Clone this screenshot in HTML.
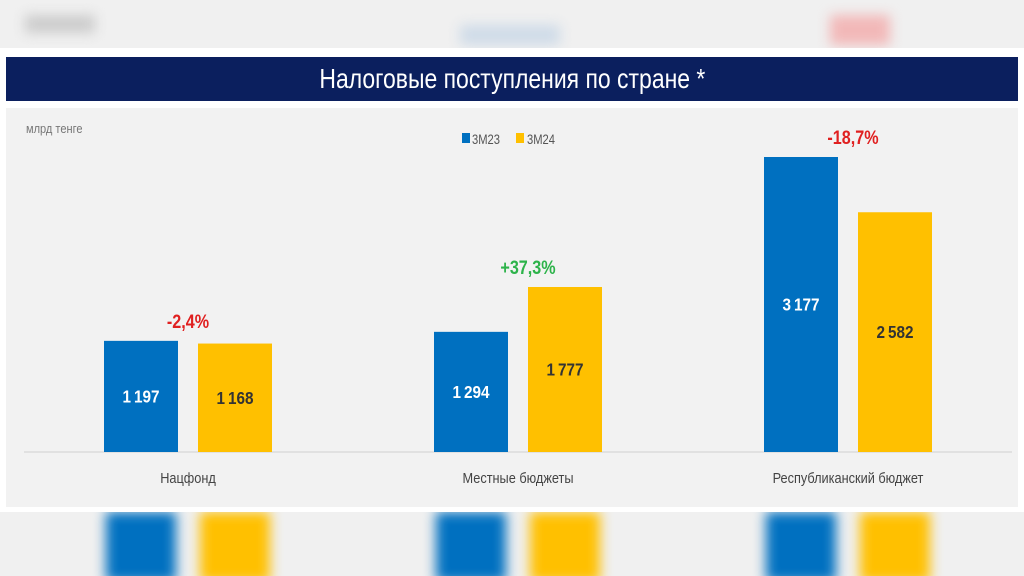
<!DOCTYPE html>
<html><head><meta charset="utf-8"><style>
body{margin:0;width:1024px;height:576px;overflow:hidden;background:#fff;font-family:"Liberation Sans",sans-serif;position:relative}
.abs{position:absolute}
</style></head><body>
<div class="abs" style="left:0;top:0;width:1024px;height:48px;background:#f0f0f0;overflow:hidden">
<div class="abs" style="left:25px;top:15px;width:70px;height:18px;background:#ccc;filter:blur(6px)"></div>
<div class="abs" style="left:460px;top:25px;width:100px;height:20px;background:#cfdbe8;filter:blur(6px)"></div>
<div class="abs" style="left:830px;top:15px;width:60px;height:30px;background:#f2b8b8;filter:blur(6px)"></div>
</div>
<div class="abs" style="left:6px;top:57px;width:1012px;height:44px;background:#0b1f5e;color:#fff;font-size:28px;text-align:center;line-height:44px">
<span style="display:inline-block;transform:scaleX(0.82)">Налоговые поступления по стране *</span></div>
<div class="abs" style="left:6px;top:108px;width:1012px;height:399px;background:#f2f2f2"></div>
<div class="abs" style="left:0;top:512px;width:1024px;height:64px;background:#f0f0f0;overflow:hidden" id="bb"></div>
<svg class="abs" style="left:0;top:0" width="1024" height="576" id="chart">
<text x="26" y="133" font-size="13" fill="#777" transform="translate(26 133) scale(0.85 1) translate(-26 -133)">млрд тенге</text>
<g>
<rect x="462" y="133" width="8" height="10" fill="#0070c0"/>
<text x="472" y="144" font-size="14" fill="#555" transform="translate(472 144) scale(0.8 1) translate(-472 -144)">3М23</text>
<rect x="516" y="133" width="8" height="10" fill="#ffc000"/>
<text x="527" y="144" font-size="14" fill="#555" transform="translate(527 144) scale(0.8 1) translate(-527 -144)">3М24</text>
</g>
<line x1="24" y1="452" x2="1012" y2="452" stroke="#d0d0d0"/>
</svg>
<script>
const categories=["Нацфонд","Местные бюджеты","Республиканский бюджет"];
const s23=[1197,1294,3177];
const s24=[1168,1777,2582];
const changes=["-2,4%","+37,3%","-18,7%"];
const NS="http://www.w3.org/2000/svg";
const svg=document.getElementById('chart');
const base=452, k=295/3177;
const y=v=>base-v*k;
const cx=i=>188+i*330;
const fmt=v=>String(v).replace(/\B(?=(\d{3})+(?!\d))/g,"\u2009");
function el(t,a){const e=document.createElementNS(NS,t);for(const n in a)e.setAttribute(n,a[n]);svg.appendChild(e);return e;}
const sx=(x,s)=>`translate(${x} 0) scale(${s} 1) translate(${-x} 0)`;
const bb=document.getElementById('bb');
categories.forEach((c,i)=>{
 [[s23[i],cx(i)-84,'#0070c0','#fff'],[s24[i],cx(i)+10,'#ffc000','#333']].forEach((b,j)=>{
  const r=el('rect',{x:b[1],y:y(b[0]),width:74,height:b[0]*k,fill:b[2]});
  
  
  const tx=b[1]+37;
  const t=el('text',{x:tx,y:y(b[0])+b[0]*k/2+6,'font-size':18,'font-weight':'bold',fill:b[3],'text-anchor':'middle',transform:sx(tx,0.85)});
  t.textContent=fmt(b[0]);
  
  
  const d=document.createElement('div');
  d.className='abs';
  
  
  d.style.cssText=`left:${b[1]+2}px;top:0px;width:70px;height:70px;background:${b[2]};filter:blur(6px)`;
  bb.appendChild(d);
 });
 const m=Math.max(s23[i],s24[i]);
 const px=cx(i)+(i==1?10:i==2?5:0);
 const p=el('text',{x:px,y:y(m)-13,'font-size':19,'font-weight':'bold',fill:changes[i][0]=='+'?'#2db34a':'#e02020','text-anchor':'middle',transform:sx(px,0.85)});
 p.textContent=changes[i];
 
 
 const l=el('text',{x:cx(i),y:483,'font-size':15,fill:'#444','text-anchor':'middle',transform:sx(cx(i),0.85)});
 l.textContent=c;
 
 
});
</script>
</body></html>
